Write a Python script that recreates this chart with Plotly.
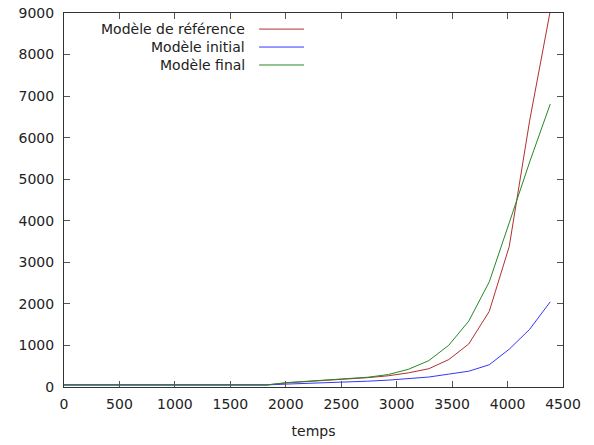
import plotly.graph_objects as go

# Data
temps = [0, 1830, 2010, 2195, 2375, 2560, 2740, 2925, 3105, 3290, 3470, 3650, 3835, 4015, 4200, 4385]
ref_vals = [50, 50, 100, 130, 155, 185, 225, 270, 340, 440, 660, 1035, 1820, 3380, 6420, 9050]
init_vals = [50, 50, 70, 85, 100, 115, 140, 165, 200, 240, 310, 380, 535, 910, 1390, 2050]
final_vals = [50, 50, 105, 135, 160, 190, 235, 300, 425, 635, 1005, 1585, 2530, 3950, 5420, 6810]

series_names = ["Modèle de référence", "Modèle initial", "Modèle final"]
series_vals = [ref_vals, init_vals, final_vals]
series_colors = ["#b03030", "#3535ff", "#238a23"]

x_ticks = list(range(0, 4501, 500))
y_ticks = list(range(0, 9001, 1000))

FONT = "DejaVu Sans"
fig = go.Figure()
for name, vals, col in zip(series_names, series_vals, series_colors):
    fig.add_trace(go.Scatter(x=temps, y=vals, mode="lines", name=name,
                             line=dict(color=col, width=1), showlegend=False))

# gnuplot-style key: right-aligned text with the sample line to its right
key_rows = [0.957, 0.909, 0.861]
annotations = []
shapes = []
for name, col, ry in zip(series_names, series_colors, key_rows):
    annotations.append(dict(xref="paper", yref="paper", x=0.367, y=ry, text=name,
                            showarrow=False, xanchor="right", yanchor="middle",
                            font=dict(family=FONT, size=14, color="#222")))
    shapes.append(dict(type="line", xref="paper", yref="paper", x0=0.391, x1=0.481,
                       y0=ry, y1=ry, line=dict(color=col, width=1)))

axis_common = dict(showgrid=False, zeroline=False, showline=True, linecolor="#333",
                   linewidth=1, mirror="ticks", ticks="inside", ticklen=6,
                   tickcolor="#555", tickwidth=1, automargin=False,
                   tickfont=dict(family=FONT, size=14, color="#222"))

fig.update_layout(
    width=594, height=445,
    margin=dict(l=64, r=31, t=13, b=58),
    paper_bgcolor="white", plot_bgcolor="white",
    xaxis=dict(range=[0, 4500], tickvals=x_ticks, ticktext=[str(v) for v in x_ticks],
               title=dict(text="temps", font=dict(family=FONT, size=14, color="#222"), standoff=15),
               ticklabelstandoff=4, **axis_common),
    yaxis=dict(range=[0, 9000], tickvals=y_ticks, ticktext=[str(v) for v in y_ticks],
               ticklabelstandoff=6, **axis_common),
    annotations=annotations, shapes=shapes,
)

fig.write_html("out.html")
